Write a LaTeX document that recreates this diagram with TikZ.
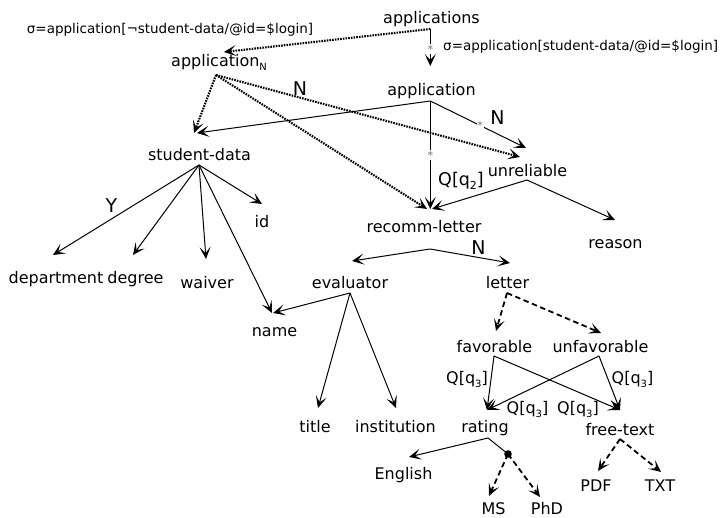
\documentclass[tikz,border=0pt]{standalone}
\usepackage{fontspec}
\setmainfont{DejaVu Sans}
\usetikzlibrary{arrows.meta}
\newcommand\lowsub[2]{\raisebox{-0.35ex}{\fontsize{#1}{#1}\selectfont #2}}
\begin{document}
\begin{tikzpicture}[x=1pt,y=-1pt,
  lbl/.style={anchor=base,inner sep=0pt,font=\fontsize{16}{16}\selectfont},
  sel/.style={anchor=base,inner sep=0pt,font=\fontsize{13.5}{13.5}\selectfont},
  big/.style={anchor=base,inner sep=0pt,font=\fontsize{19}{19}\selectfont},
  qlbl/.style={anchor=base,inner sep=0pt,font=\fontsize{16}{16}\selectfont},
  edge/.style={line width=1pt,-{Stealth[length=12pt,width=11pt,inset=6pt]}},
  dotedge/.style={edge,line width=2.1pt,dash pattern=on 1.6pt off 1.1pt},
  dashedge/.style={edge,line width=1.8pt,dash pattern=on 5.5pt off 3.5pt},
  star/.style={inner sep=0.8pt,fill=white,text=black!55,font=\fontsize{11}{11}\selectfont},
]
\useasboundingbox (0,0) rectangle (721,518);

% ---- nodes ----
\node[lbl] (apps) at (431.5,24) {applications};
\node[lbl,anchor=base west] (appN) at (171,67) {application\lowsub{10}{N}};
\node[lbl] (app) at (431.5,96) {application};
\node[sel] (selneg) at (170,34) {σ=application[¬student-data/@id=\$login]};
\node[sel,anchor=base west] (selpos) at (443,51) {σ=application[student-data/@id=\$login]};
\node[lbl] (sd) at (199.5,161) {student-data};
\node[lbl] (unrel) at (527.5,177) {unreliable};
\node[lbl] (rl) at (424,233) {recomm-letter};
\node[lbl] (reason) at (615.5,249) {reason};
\node[lbl] (letter) at (507.5,289) {letter};
\node[lbl] (eval) at (350,289) {evaluator};
\node[lbl] (name) at (274.5,337) {name};
\node[lbl] (id) at (262,228) {id};
\node[lbl] (dept) at (56,284) {department};
\node[lbl] (degree) at (135.5,284) {degree};
\node[lbl] (waiver) at (207,289) {waiver};
\node[lbl] (fav) at (494.5,353) {favorable};
\node[lbl] (unfav) at (600.5,353) {unfavorable};
\node[lbl] (rating) at (485,433) {rating};
\node[lbl] (free) at (620,436) {free-text};
\node[lbl] (title) at (315,433) {title};
\node[lbl] (inst) at (395.5,433) {institution};
\node[lbl] (eng) at (403.5,480) {English};
\node[lbl] (ms) at (493.5,514.5) {MS};
\node[lbl] (phd) at (547,514.5) {PhD};
\node[lbl] (pdf) at (596,492) {PDF};
\node[lbl] (txt) at (660,492) {TXT};

% ---- edge labels ----
\node[big] (nA) at (300,96) {N};
\node[big] (nB) at (497.5,125) {N};
\node[big] (nC) at (478.5,255) {N};
\node[big] (yA) at (111.5,213) {Y};
\node[qlbl,font=\fontsize{17.5}{17.5}\selectfont] (q2) at (461,186) {Q[q\lowsub{11}{2}]};
\node[qlbl] (q3a) at (467,384) {Q[q\lowsub{10}{3}]};
\node[qlbl] (q3b) at (632.5,384) {Q[q\lowsub{10}{3}]};
\node[qlbl] (q3c) at (527.5,414) {Q[q\lowsub{10}{3}]};
\node[qlbl] (q3d) at (578,414) {Q[q\lowsub{10}{3}]};

% ---- connection points ----
\coordinate (apps-o) at (430.3,29);
\coordinate (appN-o) at (216,75);
\coordinate (app-o) at (430.3,101);
\coordinate (sd-o) at (199,165);
\coordinate (unrel-o) at (527,180);
\coordinate (rl-o) at (430,249);
\coordinate (eval-o) at (350,293);
\coordinate (letter-o) at (507,293);
\coordinate (fav-o) at (494,356);
\coordinate (unfav-o) at (599,356);
\coordinate (rating-o) at (488,438);
\coordinate (free-o) at (620,439);

\coordinate (appN-i) at (224,52);
\coordinate (app-i) at (430.3,66);
\coordinate (sd-i1) at (194,133);
\coordinate (sd-i2) at (197,133);
\coordinate (unrel-i1) at (520,157);
\coordinate (unrel-i2) at (526,148);
\coordinate (rl-i1) at (427,209);
\coordinate (rl-i2) at (430.3,209);
\coordinate (rl-i3) at (432,209);
\coordinate (reason-i) at (615,220);
\coordinate (eval-i) at (352,261);
\coordinate (letter-i) at (510,263);
\coordinate (name-i1) at (272,313);
\coordinate (name-i2) at (273,313);
\coordinate (id-i) at (262,204);
\coordinate (dept-i) at (53,255);
\coordinate (degree-i) at (133,255);
\coordinate (waiver-i) at (206,259);
\coordinate (fav-i) at (496,331);
\coordinate (unfav-i) at (601,333);
\coordinate (rating-i) at (487,410);
\coordinate (free-i) at (620,410);
\coordinate (title-i) at (318,408);
\coordinate (inst-i) at (396,408);
\coordinate (eng-i) at (409,457);
\coordinate (ms-i) at (489,496);
\coordinate (phd-i) at (540,497);
\coordinate (pdf-i) at (598,471);
\coordinate (txt-i) at (661,472);

% ---- dotted edges ----
\draw[dotedge] (apps-o) -- (appN-i);
\draw[dotedge] (appN-o) -- (sd-i1);
\draw[dotedge] (appN-o) -- (rl-i1);
\draw[dotedge] (appN-o) -- (unrel-i1);

% ---- solid edges ----
\draw[edge] (apps-o) -- node[star,pos=0.55] (s1) {*} (app-i);
\draw[edge] (app-o) -- (sd-i2);
\draw[edge] (app-o) -- node[star,pos=0.5] (s2) {*} (rl-i2);
\draw[edge] (app-o) -- node[star,pos=0.52] (s3) {*} (unrel-i2);
\draw[edge] (unrel-o) -- (rl-i3);
\draw[edge] (unrel-o) -- (reason-i);
\draw[edge] (sd-o) -- (dept-i);
\draw[edge] (sd-o) -- (degree-i);
\draw[edge] (sd-o) -- (waiver-i);
\draw[edge] (sd-o) -- (name-i1);
\draw[edge] (sd-o) -- (id-i);
\draw[edge] (rl-o) -- (eval-i);
\draw[edge] (rl-o) -- (letter-i);
\draw[edge] (eval-o) -- (name-i2);
\draw[edge] (eval-o) -- (title-i);
\draw[edge] (eval-o) -- (inst-i);
\draw[edge] (fav-o) -- (rating-i);
\draw[edge] (fav-o) -- (free-i);
\draw[edge] (unfav-o) -- (rating-i);
\draw[edge] (unfav-o) -- (free-i);
\draw[edge] (rating-o) -- (eng-i);
\fill (508,454) circle (3.8pt) coordinate (choice);
\draw[line width=1pt] (rating-o) -- (choice);

% ---- dashed edges ----
\draw[dashedge] (letter-o) -- (fav-i);
\draw[dashedge] (letter-o) -- (unfav-i);
\draw[dashedge] (choice) -- (ms-i);
\draw[dashedge] (choice) -- (phd-i);
\draw[dashedge] (free-o) -- (pdf-i);
\draw[dashedge] (free-o) -- (txt-i);
\end{tikzpicture}
\end{document}
